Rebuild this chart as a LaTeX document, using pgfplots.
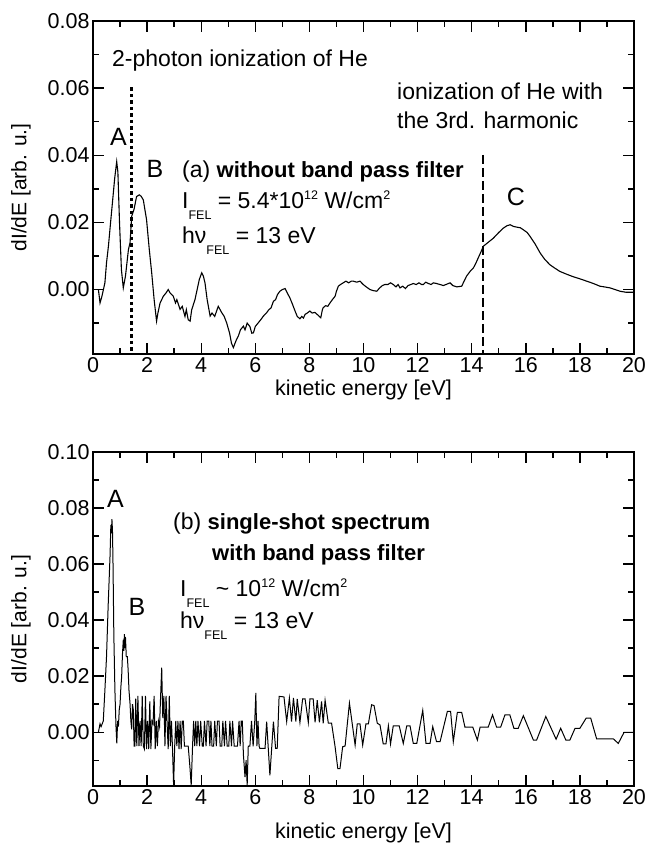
\documentclass[border=0pt]{standalone}
\usepackage{fontspec}
\setmainfont{Liberation Sans}
\usepackage{pgfplots}
\pgfplotsset{compat=1.18}
\newcommand{\sub}[1]{\raisebox{-11pt}{\fontsize{12.5}{12.5}\selectfont #1}}
\newcommand{\sups}[1]{\raisebox{8.5pt}{\fontsize{12.5}{12.5}\selectfont #1}}
\newcommand{\bfx}[1]{{\fontsize{22}{26}\selectfont\bfseries #1}}
\pgfplotsset{
  myaxis/.style={
    scale only axis, width=541pt,
    xmin=0, xmax=20, xtick={0,2,...,20}, minor xtick={1,3,...,19},
    ymin=-0.0192,
    /pgf/number format/assume math mode=true,
    yticklabel style={/pgf/number format/.cd, fixed, fixed zerofill, precision=2},
    xticklabel style={/pgf/number format/.cd, fixed},
    scaled y ticks=false,
    tick align=inside,
    axis line style={line width=2.2pt},
    every tick/.append style={black, line width=1.4pt},
    major tick length=11pt, minor tick length=6pt,
    tick label style={font=\fontsize{21.5}{25}\selectfont},
    xlabel style={font=\fontsize{21.5}{25}\selectfont},
    xlabel={kinetic energy [eV]}, ylabel={dI/dE [arb. u.]},
    every axis y label/.style={at={(axis description cs:-0.133,0.5)}, rotate=90, anchor=center, font=\fontsize{21}{25}\selectfont},
  }
}
\begin{document}
\begin{tikzpicture}[x=1pt,y=1pt]
\begin{axis}[myaxis, at={(93pt,-354pt)}, anchor=south west, height=333pt,
  ymax=0.08, ytick={0,0.02,0.04,0.06,0.08}, minor ytick={-0.01,0.01,0.03,0.05,0.07}]
\addplot[black, line width=1.1pt] coordinates {
(0.20,0.000)(0.26,-0.004)(0.33,-0.002)(0.44,0.002)(0.50,0.008)(0.57,0.0129)(0.65,0.020)(0.72,0.026)(0.80,0.033)(0.876,0.0381)(0.92,0.035)(0.98,0.020)(1.05,0.006)(1.12,0.0005)(1.20,0.004)(1.31,0.0119)(1.37,0.014)(1.43,0.0218)(1.52,0.024)(1.61,0.0277)(1.71,0.0282)(1.78,0.0278)(1.86,0.0267)(1.98,0.0208)(2.08,0.012)(2.17,0.005)(2.26,-0.003)(2.35,-0.0094)(2.40,-0.007)(2.48,-0.004)(2.60,-0.002)(2.70,-0.001)(2.78,0.000)(2.85,-0.001)(2.97,-0.002)(3.05,-0.004)(3.10,-0.003)(3.22,-0.0059)(3.30,-0.005)(3.40,-0.008)(3.45,-0.006)(3.52,-0.009)(3.59,-0.0094)(3.65,-0.006)(3.77,-0.003)(3.85,0.000)(3.93,0.003)(4.02,0.005)(4.08,0.004)(4.14,0.002)(4.22,-0.003)(4.33,-0.0079)(4.40,-0.007)(4.50,-0.008)(4.63,-0.005)(4.70,-0.006)(4.76,-0.0069)(4.85,-0.008)(4.94,-0.0099)(5.05,-0.013)(5.12,-0.016)(5.19,-0.0173)(5.25,-0.016)(5.30,-0.015)(5.37,-0.0139)(5.45,-0.012)(5.56,-0.0109)(5.62,-0.012)(5.70,-0.010)(5.80,-0.011)(5.87,-0.013)(5.93,-0.0129)(6.00,-0.011)(6.11,-0.0099)(6.20,-0.009)(6.30,-0.0079)(6.42,-0.0069)(6.50,-0.006)(6.58,-0.0055)(6.67,-0.0035)(6.75,-0.003)(6.82,-0.0015)(6.91,-0.0005)(7.00,0.0)(7.10,0.0003)(7.18,-0.001)(7.28,-0.0025)(7.38,-0.0045)(7.47,-0.0064)(7.55,-0.008)(7.65,-0.0087)(7.72,-0.008)(7.78,-0.0085)(7.84,-0.0074)(7.92,-0.007)(8.02,-0.0064)(8.10,-0.007)(8.20,-0.0068)(8.30,-0.0075)(8.42,-0.0084)(8.48,-0.006)(8.51,-0.0054)(8.60,-0.0048)(8.68,-0.005)(8.76,-0.004)(8.85,-0.003)(8.95,-0.002)(9.00,-0.0005)(9.07,0.001)(9.15,0.0015)(9.25,0.002)(9.35,0.0025)(9.45,0.002)(9.55,0.0025)(9.62,0.0025)(9.75,0.0022)(9.87,0.0025)(9.99,0.0015)(10.10,0.0008)(10.24,0.0)(10.35,-0.0003)(10.49,-0.0005)(10.60,0.0005)(10.70,0.0012)(10.79,0.0015)(10.90,0.0015)(11.00,0.002)(11.10,0.0015)(11.20,0.0008)(11.28,0.0015)(11.35,0.0005)(11.45,0.001)(11.55,0.0003)(11.65,0.0012)(11.75,0.0015)(11.84,0.0018)(11.95,0.0015)(12.05,0.002)(12.15,0.0015)(12.21,0.0015)(12.30,0.0022)(12.40,0.0018)(12.50,0.0015)(12.58,0.002)(12.70,0.0018)(12.83,0.0015)(12.95,0.0012)(13.05,0.0015)(13.20,0.002)(13.30,0.0012)(13.45,0.0008)(13.63,0.001)(13.72,0.0025)(13.81,0.004)(13.95,0.0055)(14.06,0.0064)(14.15,0.0078)(14.24,0.0094)(14.33,0.011)(14.43,0.0129)(14.60,0.014)(14.80,0.0153)(15.00,0.017)(15.17,0.0183)(15.30,0.019)(15.42,0.0193)(15.55,0.0188)(15.66,0.0186)(15.80,0.0184)(15.91,0.0178)(16.05,0.017)(16.16,0.0158)(16.35,0.0135)(16.53,0.0109)(16.70,0.009)(16.89,0.0074)(17.05,0.0065)(17.26,0.0054)(17.50,0.0046)(17.76,0.0038)(18.00,0.0032)(18.25,0.0025)(18.50,0.0018)(18.74,0.001)(18.90,0.0008)(19.11,0.0005)(19.30,0.0)(19.48,-0.0005)(19.70,-0.0008)(19.91,-0.0008)(20.00,-0.0008)
};
\addplot[black, line width=2.5pt, dash pattern=on 3.5pt off 3pt] coordinates {(1.43,0.0602)(1.43,-0.0192)};
\addplot[black, line width=2.5pt, dash pattern=on 9pt off 4pt] coordinates {(14.41,0.0401)(14.41,-0.0192)};
\end{axis}
\begin{axis}[myaxis, at={(93pt,-786pt)}, anchor=south west, height=334pt,
  ymax=0.10, ytick={0,0.02,0.04,0.06,0.08,0.10}, minor ytick={-0.01,0.01,0.03,0.05,0.07,0.09},
  xlabel style={yshift=-11pt}]
\addplot[black, line width=1.0pt] coordinates {
(0.20,0.000)(0.26,0.003)(0.30,0.002)(0.34,0.003)(0.38,0.004)(0.44,0.015)(0.50,0.027)(0.56,0.045)(0.63,0.063)(0.66,0.074)(0.68,0.071)(0.70,0.076)(0.72,0.072)(0.74,0.060)(0.77,0.035)(0.81,0.015)(0.85,0.002)(0.88,-0.004)(0.91,0.004)(0.94,0.002)(0.97,0.008)(1.00,0.010)(1.03,0.016)(1.06,0.020)(1.09,0.028)(1.12,0.033)(1.14,0.029)(1.16,0.035)(1.18,0.030)(1.20,0.034)(1.23,0.027)(1.27,0.027)(1.30,0.022)(1.33,0.015)(1.37,0.010)(1.40,0.004)(1.43,0.001)(1.46,0.010)(1.49,0.008)(1.52,-0.005)
(1.55,-0.005)(1.58,0.012)(1.62,-0.005)(1.66,0.013)(1.70,-0.005)(1.74,0.004)(1.78,-0.005)(1.82,0.013)(1.86,-0.005)(1.90,-0.006)(1.94,0.013)(1.98,-0.006)(2.02,0.004)(2.06,-0.006)(2.10,0.011)(2.14,-0.006)(2.18,0.004)(2.22,0.003)(2.26,0.013)(2.30,-0.006)(2.34,0.004)(2.38,-0.005)(2.42,0.004)(2.46,0.002)(2.50,0.013)(2.54,0.023)(2.58,0.005)(2.62,0.013)(2.66,-0.005)(2.70,0.013)(2.74,0.003)(2.78,-0.006)(2.82,0.013)(2.86,-0.005)(2.90,0.004)(2.94,-0.006)(2.98,-0.019)(3.02,-0.005)(3.06,0.004)(3.10,-0.005)(3.14,0.004)(3.18,-0.006)(3.22,0.004)(3.26,-0.006)(3.30,0.004)(3.34,0.004)(3.38,-0.005)(3.42,-0.005)(3.46,-0.005)(3.52,-0.005)(3.58,-0.012)(3.63,-0.019)(3.68,-0.005)(3.72,0.004)(3.76,-0.005)(3.80,0.004)(3.84,-0.005)(3.88,0.004)(3.94,-0.005)(3.98,0.004)(4.04,-0.005)(4.08,-0.005)(4.12,0.004)(4.18,-0.005)(4.22,0.004)(4.28,0.004)(4.32,-0.005)(4.36,0.004)(4.40,-0.005)(4.46,-0.005)(4.50,0.004)(4.56,-0.005)(4.60,0.004)(4.66,0.004)(4.70,-0.005)(4.76,-0.005)(4.80,0.004)(4.86,-0.005)(4.90,0.004)(4.96,-0.005)(5.02,-0.005)(5.06,0.004)(5.12,-0.005)(5.16,0.004)(5.22,-0.005)(5.28,-0.005)(5.34,-0.005)(5.40,0.004)(5.44,-0.005)(5.48,0.004)(5.52,0.004)(5.56,-0.008)(5.62,-0.016)(5.66,-0.010)(5.70,-0.019)(5.74,-0.005)(5.80,-0.005)(5.86,0.004)(5.92,-0.005)(5.98,0.004)(6.02,0.014)(6.06,-0.005)(6.10,0.004)(6.14,-0.005)(6.17,-0.0058)
(6.36,-0.0058)(6.42,0.0038)(6.54,-0.0154)(6.67,0.0038)(6.75,-0.0058)(6.81,-0.0058)(6.88,0.0128)(7.06,0.0126)(7.16,0.0038)(7.26,0.0122)(7.34,0.0038)(7.41,0.0122)(7.50,0.0038)(7.55,0.0119)(7.65,0.0035)(7.75,0.0119)(7.84,0.0119)(7.96,0.0035)(8.02,0.0119)(8.14,0.0119)(8.21,0.0035)(8.29,0.0114)(8.37,0.0035)(8.45,0.0110)(8.51,0.0032)(8.58,0.0114)(8.70,0.0032)(8.82,0.0032)(8.95,-0.0052)(9.05,-0.013)(9.13,-0.013)(9.23,-0.0052)(9.32,-0.0049)(9.48,0.0104)(9.69,-0.0046)(9.77,0.003)(9.87,0.003)(9.97,-0.0046)(10.09,0.003)(10.18,0.003)(10.30,0.0098)(10.39,0.0095)(10.51,0.0032)(10.61,0.0026)(10.73,-0.0042)(10.83,-0.0042)(10.92,0.0023)(11.00,-0.0042)(11.10,0.0023)(11.32,0.0023)(11.47,-0.004)(11.60,0.0023)(11.72,0.0023)(11.84,-0.004)(11.97,-0.004)(12.19,0.0078)(12.31,-0.004)(12.46,-0.004)(12.56,0.002)(12.70,-0.0034)(12.83,-0.0034)(13.10,0.0074)(13.22,0.0074)(13.32,-0.0034)(13.47,0.0071)(13.63,0.0071)(13.75,0.0018)(14.04,0.0018)(14.21,-0.0028)(14.31,0.0018)(14.61,0.0018)(14.77,0.0062)(14.92,0.0018)(15.07,0.0018)(15.23,0.0062)(15.41,0.0062)(15.56,0.0014)(15.72,0.0014)(15.91,0.0059)(16.28,-0.0028)(16.40,-0.0028)(16.74,0.0056)(17.12,-0.0025)(17.29,0.0014)(17.48,-0.0028)(17.63,-0.0028)(17.82,0.0014)(18.00,0.0014)(18.23,0.005)(18.40,0.005)(18.62,-0.0024)(19.24,-0.0024)(19.42,-0.004)(19.63,-0.0001)(20.00,-0.0001)
};
\end{axis}
% annotations panel (a)
\begin{scope}[every node/.style={inner sep=0pt, font=\fontsize{23}{27}\selectfont}]
\node[anchor=base west] at (112,-66) {2-photon ionization of He};
\node[anchor=base, font=\fontsize{25}{29}\selectfont] at (118.5,-145) {A};
\node[anchor=base, font=\fontsize{25}{29}\selectfont] at (155,-177) {B};
\node[anchor=base west] at (182,-177) {(a) \bfx{without band pass filter}};
\node[anchor=base west] at (182,-208) {I\sub{FEL} = 5.4*10\sups{12} W/cm\sups{2}};
\node[anchor=base west] at (182,-243) {hν\sub{FEL} = 13 eV};
\node[anchor=base west] at (397,-99) {ionization of He with};
\node[anchor=base west] at (397,-128) {the 3rd. harmonic};
\node[anchor=base, font=\fontsize{25}{29}\selectfont] at (516,-205) {C};
% panel (b)
\node[anchor=base, font=\fontsize{25}{29}\selectfont] at (115.5,-507) {A};
\node[anchor=base, font=\fontsize{25}{29}\selectfont] at (137,-615) {B};
\node[anchor=base west] at (173,-529) {(b) \bfx{single-shot spectrum}};
\node[anchor=base west] at (212,-560) {\bfx{with band pass filter}};
\node[anchor=base west] at (180,-596) {I\sub{FEL} \textasciitilde{} 10\sups{12} W/cm\sups{2}};
\node[anchor=base west] at (180,-628) {hν\sub{FEL} = 13 eV};
\end{scope}
\pgfresetboundingbox
\path[use as bounding box] (0,0) rectangle (647,-844);
\end{tikzpicture}
\end{document}
